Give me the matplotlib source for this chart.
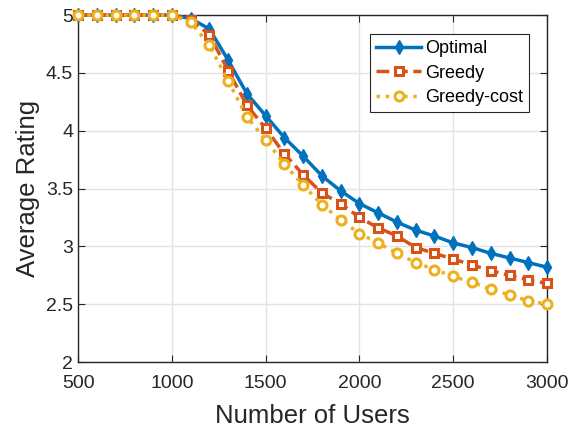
import numpy as np
import matplotlib
matplotlib.use("Agg")
import matplotlib.pyplot as plt

plt.rcParams['font.family'] = ['Liberation Sans', 'DejaVu Sans']

users = np.arange(500, 3001, 100)

optimal = [5.0, 5.0, 5.0, 5.0, 5.0, 5.0, 4.97, 4.88, 4.61, 4.32, 4.13, 3.94, 3.78,
           3.61, 3.48, 3.37, 3.29, 3.21, 3.14, 3.09, 3.03, 2.99, 2.94, 2.90, 2.86, 2.82]
greedy = [5.0, 5.0, 5.0, 5.0, 5.0, 5.0, 4.96, 4.83, 4.52, 4.22, 4.02, 3.80, 3.62,
          3.46, 3.37, 3.25, 3.16, 3.09, 2.99, 2.94, 2.89, 2.84, 2.79, 2.75, 2.71, 2.68]
greedy_cost = [5.0, 5.0, 5.0, 5.0, 5.0, 5.0, 4.94, 4.74, 4.43, 4.12, 3.92, 3.71, 3.53,
               3.36, 3.23, 3.11, 3.03, 2.94, 2.86, 2.80, 2.74, 2.69, 2.63, 2.58, 2.53, 2.50]

fig = plt.figure(figsize=(5.74, 4.3), dpi=100)
ax = fig.add_axes([0.136, 0.158, 0.817, 0.807])

ax.plot(users, optimal, '-d', color='#0072BD', lw=2.5, ms=7.5, mfc='#0072BD',
        mec='#0072BD', label='Optimal', zorder=3, clip_on=False)
ax.plot(users, greedy, '--s', color='#D95319', lw=2.5, ms=5.5, mfc='white',
        mec='#D95319', mew=2.2, label='Greedy', zorder=4, clip_on=False)
ax.plot(users, greedy_cost, ':o', color='#EDB120', lw=2.5, ms=6.5, mfc='white',
        mec='#EDB120', mew=2.2, label='Greedy-cost', zorder=5, clip_on=False)

ax.set_xlim(500, 3000)
ax.set_ylim(2, 5)
ax.set_xticks(np.arange(500, 3001, 500))
ax.set_yticks([2, 2.5, 3, 3.5, 4, 4.5, 5])
ax.set_yticklabels(['2', '2.5', '3', '3.5', '4', '4.5', '5'])
ax.grid(True, color='#e3e3e3', lw=1)
ax.set_axisbelow(True)
ax.tick_params(direction='in', length=5, labelsize=14, colors='#262626',
               top=True, right=True)
ax.tick_params(axis='x', pad=9)
for s in ax.spines.values():
    s.set_color('#262626')
    s.set_linewidth(1)

ax.set_xlabel('Number of Users', fontsize=18.5, color='#262626', labelpad=9)
ax.set_ylabel('Average Rating', fontsize=18.5, color='#262626')

leg = ax.legend(loc='upper right', bbox_to_anchor=(0.962, 0.945), fontsize=13,
                fancybox=False, edgecolor='#262626', framealpha=1,
                handlelength=2.5, borderpad=0.35, labelspacing=0.4,
                handletextpad=0.2, borderaxespad=0)
leg.get_frame().set_linewidth(0.8)

fig.savefig('out.png', dpi=100)
